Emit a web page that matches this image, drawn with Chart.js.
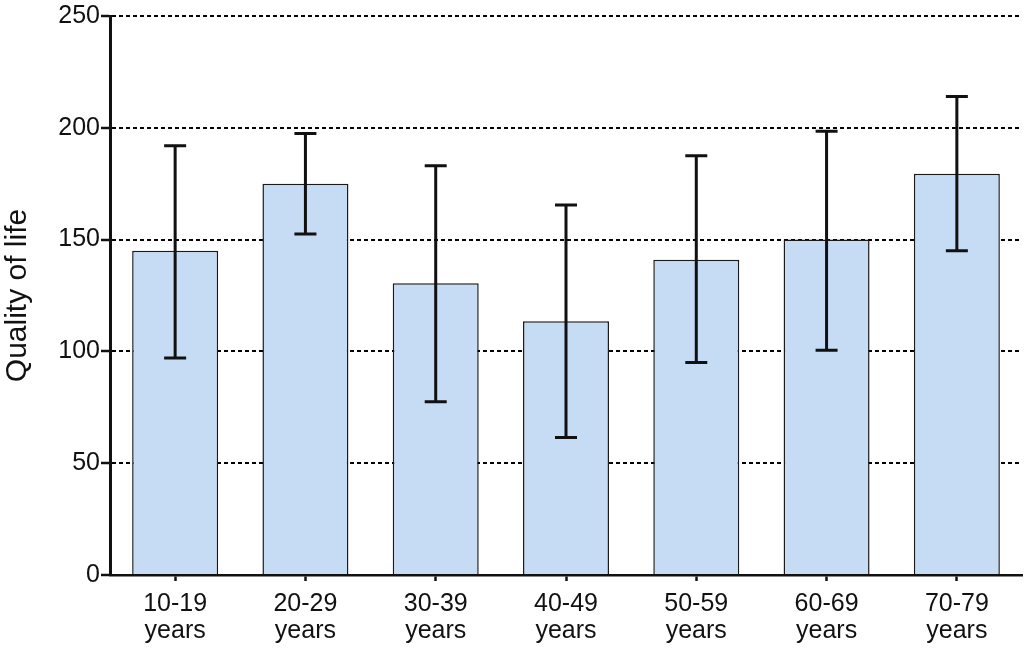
<!DOCTYPE html>
<html lang="en">
<head>
  <meta charset="UTF-8" />
  <title>Quality of life by age group</title>
  <script src="https://cdn.jsdelivr.net/npm/chart.js"></script>
  <style>
    body {
      margin: 0;
      background: #fff;
    }
    .wrap {
      width: 1024px;
      height: 649px;
    }
  </style>
</head>
<body>
  <div class="wrap">
    <canvas id="grafica" width="1024" height="649"></canvas>
  </div>

  <script>
    // values
    const ageGroups = [['10-19', 'years'], ['20-29', 'years'], ['30-39', 'years'], ['40-49', 'years'],
                       ['50-59', 'years'], ['60-69', 'years'], ['70-79', 'years']];
    const meanQol = [145, 175, 130.5, 113.5, 141, 150, 179.5];
    const errUpper = [192, 197.5, 183, 165.5, 187.5, 198.5, 214];
    const errLower = [97, 152.5, 77.5, 61.5, 95, 100.5, 145];
    const yTicks = [0, 50, 100, 150, 200, 250];

    const fontFam = '"Liberation Sans", Arial, Helvetica, sans-serif';

    // whiskers drawn on top of the bars, positioned with the chart's own scales
    const errorBars = {
      id: 'errorBars',
      afterDatasetsDraw(chart) {
        const ctx = chart.ctx;
        const yScale = chart.scales.y;
        const meta = chart.getDatasetMeta(0);
        ctx.save();
        ctx.strokeStyle = '#111';
        ctx.lineWidth = 3;
        meta.data.forEach((bar, i) => {
          const x = bar.x;
          const yHi = yScale.getPixelForValue(errUpper[i]);
          const yLo = yScale.getPixelForValue(errLower[i]);
          const cap = 11;
          ctx.beginPath();
          ctx.moveTo(x, yHi);
          ctx.lineTo(x, yLo);
          ctx.moveTo(x - cap, yHi);
          ctx.lineTo(x + cap, yHi);
          ctx.moveTo(x - cap, yLo);
          ctx.lineTo(x + cap, yLo);
          ctx.stroke();
        });
        ctx.restore();
      }
    };

    const ctx = document.getElementById('grafica').getContext('2d');
    new Chart(ctx, {
      type: 'bar',
      data: {
        labels: ageGroups,
        datasets: [{
          data: meanQol,
          backgroundColor: '#c6dcf5',
          borderColor: '#1a1a1a',
          borderWidth: 1.5,
          barPercentage: 0.66,
          categoryPercentage: 1
        }]
      },
      options: {
        responsive: false,
        animation: false,
        layout: { padding: { top: 14, right: 2, left: 0, bottom: 0 } },
        plugins: {
          legend: { display: false },
          tooltip: { enabled: false }
        },
        scales: {
          x: {
            afterFit(scale) { scale.height = 74; },
            grid: {
              offset: false,
              drawOnChartArea: false,
              drawTicks: true,
              tickLength: 6,
              tickColor: '#111',
              tickWidth: 2.5
            },
            border: { color: '#111', width: 2.5 },
            ticks: {
              color: '#111',
              font: { family: fontFam, size: 25, lineHeight: 1.1 },
              padding: 9
            }
          },
          y: {
            min: 0,
            max: 250,
            afterFit(scale) { scale.width = 110; },
            afterBuildTicks(scale) { scale.ticks = yTicks.map(v => ({ value: v })); },
            grid: {
              color: '#000',
              lineWidth: 2,
              tickLength: 9,
              tickColor: '#111',
              tickWidth: 2.5,
              tickBorderDash: []
            },
            border: { color: '#111', width: 3, dash: [4, 3] },
            ticks: {
              color: '#111',
              font: { family: fontFam, size: 25 },
              padding: 1
            },
            title: {
              display: true,
              text: 'Quality of life',
              color: '#111',
              font: { family: fontFam, size: 30 },
              padding: { top: 0, bottom: 2 }
            }
          }
        }
      },
      plugins: [errorBars]
    });
  </script>
</body>
</html>
